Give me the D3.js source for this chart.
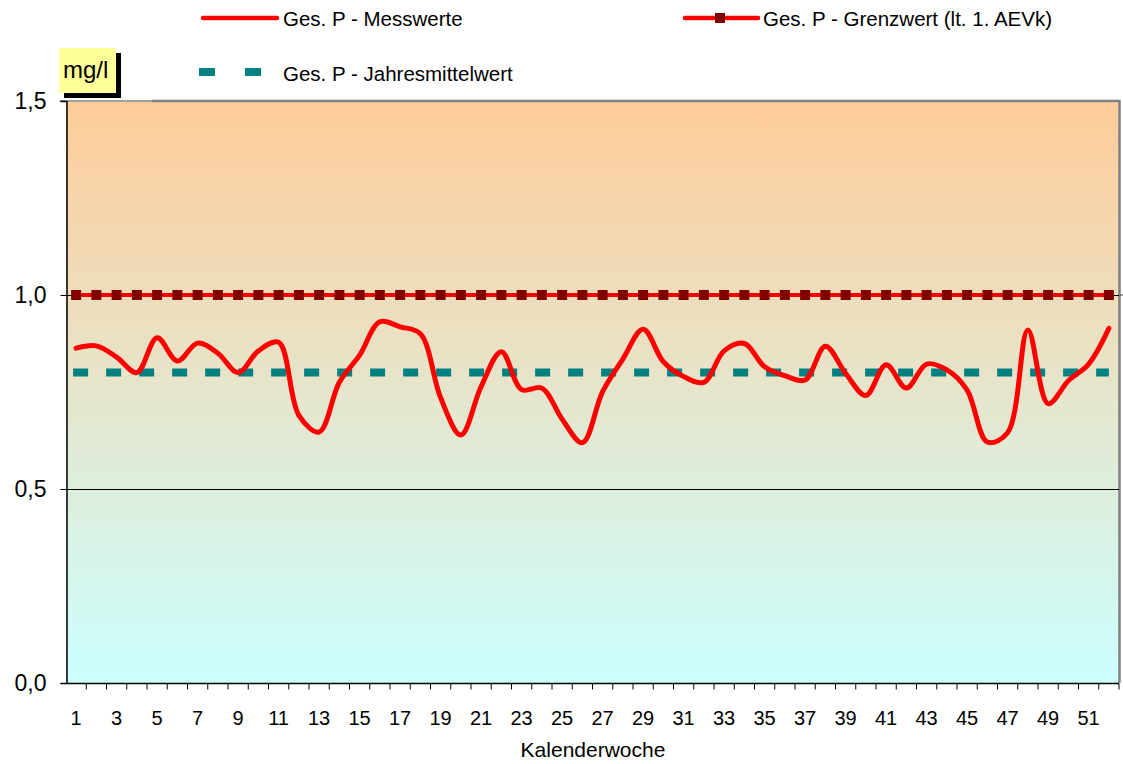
<!DOCTYPE html>
<html>
<head>
<meta charset="utf-8">
<script src="https://d3js.org/d3.v7.min.js"></script>
<style>
  body { margin: 0; background: #fff; }
  text { font-family: Arial, "Liberation Sans", sans-serif; fill: #000; }
</style>
</head>
<body>
<div id="chart"></div>
<script>
// Kalenderwochen 1..52
const weeks = d3.range(1, 53);

const messwerte = [
  0.863, 0.869, 0.840, 0.800, 0.890, 0.830, 0.876, 0.850, 0.800, 0.856,
  0.878, 0.690, 0.647, 0.775, 0.845, 0.931, 0.918, 0.900, 0.735, 0.639,
  0.764, 0.854, 0.756, 0.760, 0.680, 0.619, 0.751, 0.835, 0.912, 0.828,
  0.790, 0.775, 0.856, 0.875, 0.815, 0.792, 0.781, 0.868, 0.798, 0.741,
  0.820, 0.760, 0.822, 0.807, 0.755, 0.621, 0.645, 0.910, 0.720, 0.779,
  0.822, 0.914
];

const grenzwert = 1.0;      // lt. 1. AEVk
const jahresmittel = 0.8;

const yTicks = [0, 0.5, 1.0, 1.5];
const xTickLabels = weeks.filter(w => w % 2 === 1);

const width = 1123, height = 764;
const margin = { left: 66, right: 4, top: 101, bottom: 81 };
const plotRight = 1119;

const svg = d3.select("#chart").append("svg")
  .attr("width", width)
  .attr("height", height);

const x = d3.scaleBand()
  .domain(weeks)
  .range([margin.left, plotRight]);

const y = d3.scaleLinear()
  .domain([0, 1.5])
  .range([height - margin.bottom, margin.top]);

const cx = d => x(d) + x.bandwidth() / 2;

// background gradient
const grad = svg.append("defs").append("linearGradient")
  .attr("id", "bg")
  .attr("x1", 0).attr("y1", 0).attr("x2", 0).attr("y2", 1);
grad.append("stop").attr("offset", "0%").attr("stop-color", "#ffcc99");
grad.append("stop").attr("offset", "100%").attr("stop-color", "#ccffff");

svg.append("rect")
  .attr("x", margin.left)
  .attr("y", y(1.5))
  .attr("width", plotRight - margin.left)
  .attr("height", y(0) - y(1.5))
  .attr("fill", "url(#bg)");

// plot area frame (top and right grey)
svg.append("line")
  .attr("x1", 60).attr("x2", 152)
  .attr("y1", y(1.5)).attr("y2", y(1.5))
  .attr("stroke", "#a0a0a0").attr("stroke-width", 2);
svg.append("path")
  .attr("d", `M${152},${y(1.5)}H${plotRight + 0.5}V${y(0)}`)
  .attr("fill", "none")
  .attr("stroke", "#808080")
  .attr("stroke-width", 2.5);

// gridlines
svg.append("g")
  .selectAll("line")
  .data([0.5, 1.0])
  .join("line")
  .attr("x1", margin.left)
  .attr("x2", plotRight)
  .attr("y1", d => Math.round(y(d)) + 0.5)
  .attr("y2", d => Math.round(y(d)) + 0.5)
  .attr("stroke", "#000")
  .attr("stroke-width", 1);

// y axis
const yAxis = svg.append("g")
  .attr("transform", `translate(${margin.left + 0.5},0)`)
  .call(d3.axisLeft(y)
    .tickValues(yTicks)
    .tickSize(6)
    .tickPadding(14)
    .tickFormat(d => d3.format(".1f")(d).replace(".", ",")));
yAxis.select(".domain").attr("stroke", "#000").attr("stroke-width", 1.5);
yAxis.selectAll("text").style("font-size", "23px").attr("font-family", null);

// small tick on the right side at 1,0
svg.append("line")
  .attr("x1", 1120).attr("x2", 1124)
  .attr("y1", y(1.0)).attr("y2", y(1.0))
  .attr("stroke", "#404040");

// x axis: ticks between categories, labels every second week
const xAxisG = svg.append("g")
  .attr("transform", `translate(0,${y(0) + 0.5})`);
xAxisG.append("line")
  .attr("x1", margin.left).attr("x2", plotRight)
  .attr("stroke", "#000").attr("stroke-width", 1.5);
xAxisG.selectAll("line.tick")
  .data(weeks.slice(1).concat([53]))
  .join("line")
  .attr("class", "tick")
  .attr("x1", d => d === 53 ? plotRight : x(d))
  .attr("x2", d => d === 53 ? plotRight : x(d))
  .attr("y1", 0).attr("y2", 6)
  .attr("stroke", "#000");
xAxisG.selectAll("text")
  .data(xTickLabels)
  .join("text")
  .attr("x", d => cx(d))
  .attr("y", 41)
  .attr("text-anchor", "middle")
  .style("font-size", "20px")
  .text(d => d);

svg.append("text")
  .attr("x", 593)
  .attr("y", 757)
  .attr("text-anchor", "middle")
  .style("font-size", "21px")
  .text("Kalenderwoche");

// Jahresmittelwert (dashed teal)
svg.append("line")
  .attr("x1", cx(1) - 3)
  .attr("x2", cx(52))
  .attr("y1", y(jahresmittel))
  .attr("y2", y(jahresmittel))
  .attr("stroke", "#008080")
  .attr("stroke-width", 8)
  .attr("stroke-dasharray", "15,18");

// Grenzwert line with square markers
svg.append("line")
  .attr("x1", cx(1))
  .attr("x2", cx(52))
  .attr("y1", y(grenzwert))
  .attr("y2", y(grenzwert))
  .attr("stroke", "#ff0000")
  .attr("stroke-width", 4);
svg.append("g")
  .selectAll("rect")
  .data(weeks)
  .join("rect")
  .attr("x", d => cx(d) - 5)
  .attr("y", y(grenzwert) - 5)
  .attr("width", 10)
  .attr("height", 10)
  .attr("fill", "#800000");

// Messwerte (smoothed red line)
const line = d3.line()
  .x((d, i) => cx(weeks[i]))
  .y(d => y(d))
  .curve(d3.curveCatmullRom.alpha(0.5));
svg.append("path")
  .datum(messwerte)
  .attr("d", line)
  .attr("fill", "none")
  .attr("stroke", "#ff0000")
  .attr("stroke-width", 5)
  .attr("stroke-linejoin", "round")
  .attr("stroke-linecap", "round");

// mg/l label box with shadow
svg.append("rect").attr("x", 64).attr("y", 53).attr("width", 57).attr("height", 45).attr("fill", "#000");
svg.append("rect").attr("x", 59).attr("y", 48).attr("width", 57).attr("height", 45).attr("fill", "#ffff99");
svg.append("text").attr("x", 63).attr("y", 78).style("font-size", "24px").text("mg/l");

// legend
const leg = svg.append("g");
leg.append("line").attr("x1", 203).attr("x2", 277).attr("y1", 18).attr("y2", 18)
  .attr("stroke", "#ff0000").attr("stroke-width", 4.5).attr("stroke-linecap", "round");
leg.append("text").attr("x", 283).attr("y", 26).style("font-size", "20.5px").text("Ges. P - Messwerte");

leg.append("line").attr("x1", 685).attr("x2", 758).attr("y1", 18).attr("y2", 18)
  .attr("stroke", "#ff0000").attr("stroke-width", 4.5).attr("stroke-linecap", "round");
leg.append("rect").attr("x", 715).attr("y", 13).attr("width", 10).attr("height", 10).attr("fill", "#800000");
leg.append("text").attr("x", 763).attr("y", 26).style("font-size", "20.5px").text("Ges. P - Grenzwert (lt. 1. AEVk)");

leg.selectAll("rect.dash")
  .data([199, 245])
  .join("rect")
  .attr("class", "dash")
  .attr("x", d => d).attr("y", 68).attr("width", 16).attr("height", 8)
  .attr("fill", "#008080");
leg.append("text").attr("x", 283).attr("y", 81).style("font-size", "20.5px").text("Ges. P - Jahresmittelwert");
</script>
</body>
</html>
